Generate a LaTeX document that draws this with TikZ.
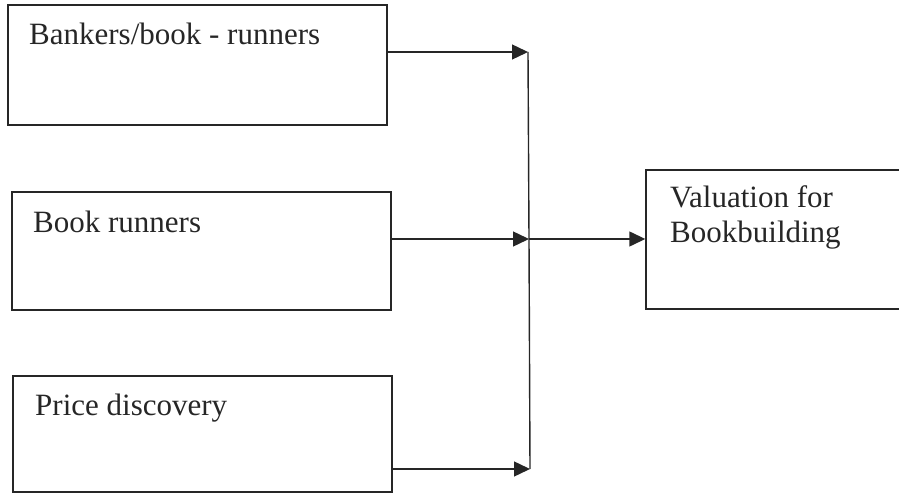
\documentclass[tikz,border=0pt]{standalone}
\usepackage{fontspec}
\setmainfont{Liberation Serif}
\usetikzlibrary{arrows.meta}
\begin{document}
\begin{tikzpicture}[x=1bp,y=-1bp,
  box/.style={draw=black!85, line width=1.4bp, rectangle, inner sep=0pt},
  lbl/.style={anchor=base west, inner sep=0pt, align=left, font=\fontsize{31bp}{35bp}\selectfont, text=black!85},
  conn/.style={draw=black!85, line width=1.4bp},
  arr/.style={conn, -{Triangle[length=16bp,width=15bp]}}]
\useasboundingbox (0,0) rectangle (899,494);
\clip (0,0) rectangle (899,494);
% boxes
\node[box, minimum width=379bp, minimum height=120bp] (b1) at (197.5,65) {};
\node[box, minimum width=379bp, minimum height=118bp] (b2) at (201.5,251) {};
\node[box, minimum width=379bp, minimum height=116bp] (b3) at (202.5,434) {};
\node[box, minimum width=262bp, minimum height=139bp] (v) at (777,239.5) {};
% texts
\node[lbl] (t1) at (29,45) {Bankers/book - runners};
\node[lbl] (t2) at (33,233) {Book runners};
\node[lbl] (t3) at (35,415) {Price discovery};
\node[lbl] (t4) at (670,243) {Valuation for\\Bookbuilding};
% junction
\coordinate (j1) at (528,52);
\coordinate (j2) at (529,239);
\coordinate (j3) at (530,469);
\draw[conn] (j1) -- (j2) -- (j3);
\draw[arr] (b1.east |- j1) -- (j1);
\draw[arr] (b2.east |- j2) -- (j2);
\draw[arr] (b3.east |- j3) -- (j3);
\draw[arr] (j2) -- (v.west |- j2);
\end{tikzpicture}
\end{document}
